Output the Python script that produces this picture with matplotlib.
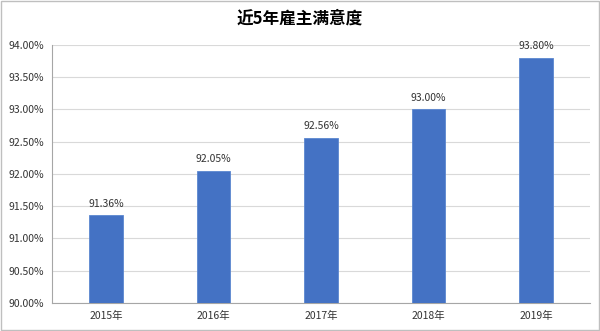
import numpy as np
import matplotlib.pyplot as plt
from matplotlib.patches import Rectangle

plt.rcParams['font.family'] = ['Noto Sans CJK SC', 'DejaVu Sans']

years = ['2015年', '2016年', '2017年', '2018年', '2019年']
satisfaction = [91.36, 92.05, 92.56, 93.00, 93.80]
yticks = [90.0, 90.5, 91.0, 91.5, 92.0, 92.5, 93.0, 93.5, 94.0]

fig = plt.figure(figsize=(6, 3.31), dpi=100)
ax = fig.add_axes([0.087, 0.085, 0.896, 0.779])

x = np.arange(len(years))
ax.bar(x, satisfaction, width=0.31, color='#4472C4', edgecolor='#5B87D0', linewidth=0.6,
       zorder=3)

for xi, v in zip(x, satisfaction):
    ax.text(xi, v + 0.1, f'{v:.2f}%', ha='center', va='bottom', fontsize=7.5,
            color='#333333', zorder=4)

ax.set_xlim(-0.5, len(years) - 0.5)
ax.set_ylim(90, 94)
ax.set_yticks(yticks)
ax.set_yticklabels([f'{t:.2f}%' for t in yticks], fontsize=7.5, color='#333333')
ax.set_xticks(x)
ax.set_xticklabels(years, fontsize=7.5, color='#333333')
ax.tick_params(axis='both', length=0, pad=6)
ax.yaxis.grid(True, color='#D9D9D9', linewidth=0.8, zorder=0)

for s in ['top', 'right']:
    ax.spines[s].set_visible(False)
ax.spines['left'].set_color('#A6A6A6')
ax.spines['bottom'].set_color('#A6A6A6')

fig.text(0.5, 0.945, '近5年雇主满意度', ha='center', va='center', fontsize=12,
         fontweight='bold', color='#000000')

fig.patches.append(Rectangle((0.001, 0.002), 0.997, 0.995, transform=fig.transFigure,
                             fill=False, edgecolor='#BFBFBF', linewidth=1))

fig.savefig('out.png', dpi=100)
